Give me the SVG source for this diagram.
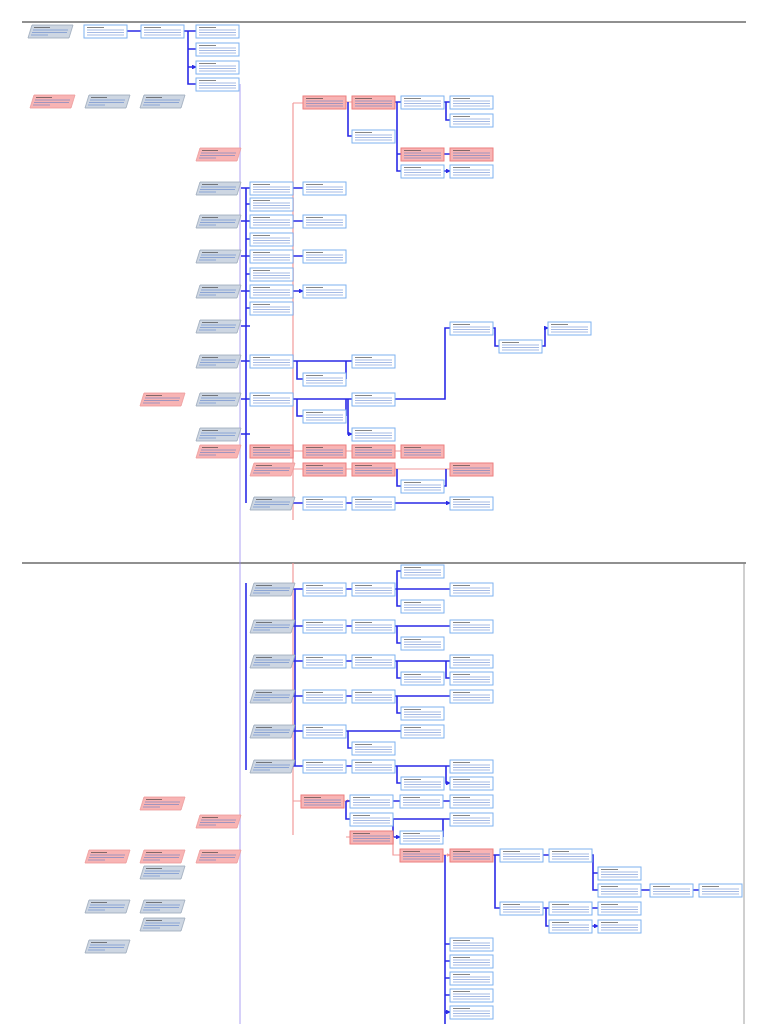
<svg xmlns="http://www.w3.org/2000/svg" xmlns:xlink="http://www.w3.org/1999/xlink" width="768" height="1024" viewBox="0 0 768 1024">
<style>
.bl{fill:none;stroke:#2b2be6;stroke-width:1.6}
.pk{fill:none;stroke:#f29a9a;stroke-width:1.2}
.ln{stroke:#4a74c9;stroke-width:0.5}
.lk{stroke:#333;stroke-width:0.6}
</style>
<defs>
<marker id="a" viewBox="0 0 6 6" refX="5" refY="3" markerWidth="3" markerHeight="3" orient="auto"><path d="M0,0L6,3L0,6z" fill="#2b2be6"/></marker>
<marker id="ap" viewBox="0 0 6 6" refX="5" refY="3" markerWidth="3" markerHeight="3" orient="auto"><path d="M0,0L6,3L0,6z" fill="#f29a9a"/></marker>
<symbol id="b" overflow="visible"><rect x="0" y="0" width="43" height="13" fill="#fff" stroke="#7fb2f0" stroke-width="1"/><line x1="3" y1="2.5" x2="20" y2="2.5" class="lk"/><line x1="3" y1="5" x2="40" y2="5" class="ln"/><line x1="3" y1="7.5" x2="40" y2="7.5" class="ln"/><line x1="3" y1="10" x2="40" y2="10" class="ln"/></symbol>
<symbol id="p" overflow="visible"><rect x="0" y="0" width="43" height="13" fill="#f8b4b4" stroke="#ec7f7f" stroke-width="1"/><line x1="3" y1="2.5" x2="20" y2="2.5" class="lk"/><line x1="3" y1="5" x2="40" y2="5" class="ln"/><line x1="3" y1="7.5" x2="40" y2="7.5" class="ln"/><line x1="3" y1="10" x2="40" y2="10" class="ln"/></symbol>
<symbol id="g" overflow="visible"><polygon points="4,0 45,0 41,13 0,13" fill="#cdd6e2" stroke="#9aa8ba" stroke-width="0.8"/><line x1="6" y1="2.5" x2="22" y2="2.5" class="lk"/><line x1="5" y1="5" x2="40" y2="5" class="ln"/><line x1="4" y1="7.5" x2="39" y2="7.5" class="ln"/><line x1="3" y1="10" x2="20" y2="10" class="ln"/></symbol>
<symbol id="q" overflow="visible"><polygon points="4,0 45,0 41,13 0,13" fill="#f8b4b4" stroke="#ec9a9a" stroke-width="0.8"/><line x1="6" y1="2.5" x2="22" y2="2.5" class="lk"/><line x1="5" y1="5" x2="40" y2="5" class="ln"/><line x1="4" y1="7.5" x2="39" y2="7.5" class="ln"/><line x1="3" y1="10" x2="20" y2="10" class="ln"/></symbol>
</defs>
<rect width="768" height="1024" fill="#fff"/>
<line x1="22" y1="22" x2="746" y2="22" stroke="#222" stroke-width="1.2"/>
<line x1="22" y1="563" x2="746" y2="563" stroke="#222" stroke-width="1.2"/>
<line x1="744" y1="563" x2="744" y2="1024" stroke="#888" stroke-width="0.8"/>
<g id="connectors">
<line x1="240" y1="84" x2="240" y2="1024" stroke="#9a8cf0" stroke-width="0.8"/>
<line x1="293" y1="103" x2="293" y2="520" class="pk"/>
<line x1="293" y1="563" x2="293" y2="835" class="pk"/>
<path class="bl" marker-end="url(#a)" d="M127 31H141M184 31H196M188 31V84H196M188 49H196M188 67H196"/>
<path class="pk" marker-end="url(#ap)" d="M293 103H303M346 102H352M293 451H303M346 451H352M395 451H401M293 469H303M346 469H352M395 469H450M293 801H301M344 801H350"/>
<path class="bl" marker-end="url(#a)" d="M348 102V136H352M395 102H401M397 102V171H401M397 154H401M444 102H450M446 102V120H450M444 154H450M444 171H450"/>
<path class="bl" d="M246 188V503"/>
<path class="bl" marker-end="url(#a)" d="M241 188H250M241 221H250M241 256H250M241 291H250M241 326H250M241 361H250M241 399H250M241 434H250M246 204H250M246 239H250M246 274H250M246 308H250M293 188H303M293 221H303M293 256H303M293 291H303"/>
<path class="bl" marker-end="url(#a)" d="M293 361H352M297 361V379H303M346 379V361M293 399H352M297 399V416H303M346 416V399M346 399H348V434H352"/>
<path class="bl" marker-end="url(#a)" d="M395 399H445V328H450M493 328H495V346H499M542 346H545V328H548"/>
<path class="bl" marker-end="url(#a)" d="M397 469V486H401M444 486H446V469M293 503H303M346 503H352M395 503H450"/>
<path class="bl" d="M246 583V770"/>
<path class="bl" marker-end="url(#a)" d="M293 589H303M346 589H352M395 589H450M397 589V571H401M397 589V606H401M293 626H303M346 626H352M395 626H450M397 626V643H401M293 661H303M346 661H352M395 661H450M397 661V678H401M446 661V678H450M293 696H303M346 696H352M395 696H450M397 696V713H401M293 731H303M346 731H401M348 731V748H352M293 766H303M346 766H352M395 766H450M397 766V783H401M446 766V783H450"/>
<path class="bl" marker-end="url(#a)" d="M295 589V766M346 801H350M393 801H400M443 801H450M346 801V819H350M393 819H450M393 819V837H400M443 837V819M393 837H400"/>
<path class="pk" marker-end="url(#ap)" d="M346 837H350M393 837V855H400M443 855H450"/>
<path class="bl" marker-end="url(#a)" d="M493 855H500M495 855V908H500M543 855H549M592 855H593V873H598M593 873V890H598M641 890H650M692 890H699M543 908H549M546 908V926H549M592 908H598M592 926H598"/>
<path class="bl" d="M445 855V1024"/>
<path class="bl" marker-end="url(#a)" d="M445 944H450M445 961H450M445 978H450M445 995H450M445 1012H450"/>
</g>
<g id="n1"><use href="#g" x="28" y="25"/></g>
<g id="n2"><use href="#b" x="84" y="25"/></g>
<g id="n3"><use href="#b" x="141" y="25"/></g>
<g id="n4"><use href="#b" x="196" y="25"/></g>
<g id="n5"><use href="#b" x="196" y="43"/></g>
<g id="n6"><use href="#b" x="196" y="61"/></g>
<g id="n7"><use href="#b" x="196" y="78"/></g>
<g id="n8"><use href="#q" x="30" y="95"/></g>
<g id="n9"><use href="#g" x="85" y="95"/></g>
<g id="n10"><use href="#g" x="140" y="95"/></g>
<g id="n11"><use href="#p" x="303" y="96"/></g>
<g id="n12"><use href="#p" x="352" y="96"/></g>
<g id="n13"><use href="#b" x="352" y="130"/></g>
<g id="n14"><use href="#b" x="401" y="96"/></g>
<g id="n15"><use href="#b" x="450" y="96"/></g>
<g id="n16"><use href="#b" x="450" y="114"/></g>
<g id="n17"><use href="#p" x="401" y="148"/></g>
<g id="n18"><use href="#p" x="450" y="148"/></g>
<g id="n19"><use href="#b" x="401" y="165"/></g>
<g id="n19b"><use href="#b" x="450" y="165"/></g>
<g id="n20"><use href="#q" x="196" y="148"/></g>
<g id="n21"><use href="#g" x="196" y="182"/></g>
<g id="n22"><use href="#g" x="196" y="215"/></g>
<g id="n23"><use href="#g" x="196" y="250"/></g>
<g id="n24"><use href="#g" x="196" y="285"/></g>
<g id="n25"><use href="#g" x="196" y="320"/></g>
<g id="n26"><use href="#g" x="196" y="355"/></g>
<g id="n27"><use href="#g" x="196" y="393"/></g>
<g id="n28"><use href="#g" x="196" y="428"/></g>
<g id="n29"><use href="#q" x="140" y="393"/></g>
<g id="n30"><use href="#q" x="196" y="445"/></g>
<g id="n31"><use href="#b" x="250" y="182"/></g>
<g id="n32"><use href="#b" x="250" y="198"/></g>
<g id="n33"><use href="#b" x="250" y="215"/></g>
<g id="n34"><use href="#b" x="250" y="233"/></g>
<g id="n35"><use href="#b" x="250" y="250"/></g>
<g id="n36"><use href="#b" x="250" y="268"/></g>
<g id="n37"><use href="#b" x="250" y="285"/></g>
<g id="n38"><use href="#b" x="250" y="302"/></g>
<g id="n39"><use href="#b" x="303" y="182"/></g>
<g id="n40"><use href="#b" x="303" y="215"/></g>
<g id="n41"><use href="#b" x="303" y="250"/></g>
<g id="n42"><use href="#b" x="303" y="285"/></g>
<g id="n43"><use href="#b" x="250" y="355"/></g>
<g id="n44"><use href="#b" x="303" y="373"/></g>
<g id="n45"><use href="#b" x="352" y="355"/></g>
<g id="n46"><use href="#b" x="250" y="393"/></g>
<g id="n47"><use href="#b" x="303" y="410"/></g>
<g id="n48"><use href="#b" x="352" y="393"/></g>
<g id="n49"><use href="#b" x="352" y="428"/></g>
<g id="n50"><use href="#b" x="450" y="322"/></g>
<g id="n51"><use href="#b" x="499" y="340"/></g>
<g id="n52"><use href="#b" x="548" y="322"/></g>
<g id="n53"><use href="#p" x="250" y="445"/></g>
<g id="n54"><use href="#p" x="303" y="445"/></g>
<g id="n55"><use href="#p" x="352" y="445"/></g>
<g id="n56"><use href="#p" x="401" y="445"/></g>
<g id="n57"><use href="#q" x="250" y="463"/></g>
<g id="n58"><use href="#p" x="303" y="463"/></g>
<g id="n59"><use href="#p" x="352" y="463"/></g>
<g id="n60"><use href="#p" x="450" y="463"/></g>
<g id="n61"><use href="#b" x="401" y="480"/></g>
<g id="n62"><use href="#g" x="250" y="497"/></g>
<g id="n63"><use href="#b" x="303" y="497"/></g>
<g id="n64"><use href="#b" x="352" y="497"/></g>
<g id="n65"><use href="#b" x="450" y="497"/></g>
<g id="n66"><use href="#g" x="250" y="583"/></g>
<g id="n67"><use href="#b" x="303" y="583"/></g>
<g id="n68"><use href="#b" x="352" y="583"/></g>
<g id="n69"><use href="#b" x="401" y="565"/></g>
<g id="n70"><use href="#b" x="401" y="600"/></g>
<g id="n71"><use href="#b" x="450" y="583"/></g>
<g id="n72"><use href="#g" x="250" y="620"/></g>
<g id="n73"><use href="#b" x="303" y="620"/></g>
<g id="n74"><use href="#b" x="352" y="620"/></g>
<g id="n75"><use href="#b" x="401" y="637"/></g>
<g id="n76"><use href="#b" x="450" y="620"/></g>
<g id="n77"><use href="#g" x="250" y="655"/></g>
<g id="n78"><use href="#b" x="303" y="655"/></g>
<g id="n79"><use href="#b" x="352" y="655"/></g>
<g id="n80"><use href="#b" x="401" y="672"/></g>
<g id="n81"><use href="#b" x="450" y="655"/></g>
<g id="n82"><use href="#b" x="450" y="672"/></g>
<g id="n83"><use href="#g" x="250" y="690"/></g>
<g id="n84"><use href="#b" x="303" y="690"/></g>
<g id="n85"><use href="#b" x="352" y="690"/></g>
<g id="n86"><use href="#b" x="401" y="707"/></g>
<g id="n87"><use href="#b" x="450" y="690"/></g>
<g id="n88"><use href="#g" x="250" y="725"/></g>
<g id="n89"><use href="#b" x="303" y="725"/></g>
<g id="n90"><use href="#b" x="352" y="742"/></g>
<g id="n91"><use href="#b" x="401" y="725"/></g>
<g id="n92"><use href="#g" x="250" y="760"/></g>
<g id="n93"><use href="#b" x="303" y="760"/></g>
<g id="n94"><use href="#b" x="352" y="760"/></g>
<g id="n95"><use href="#b" x="401" y="777"/></g>
<g id="n96"><use href="#b" x="450" y="760"/></g>
<g id="n97"><use href="#b" x="450" y="777"/></g>
<g id="n98"><use href="#q" x="140" y="797"/></g>
<g id="n99"><use href="#q" x="196" y="815"/></g>
<g id="n100"><use href="#q" x="85" y="850"/></g>
<g id="n101"><use href="#q" x="140" y="850"/></g>
<g id="n102"><use href="#q" x="196" y="850"/></g>
<g id="n103"><use href="#g" x="140" y="866"/></g>
<g id="n104"><use href="#g" x="85" y="900"/></g>
<g id="n105"><use href="#g" x="140" y="900"/></g>
<g id="n106"><use href="#g" x="140" y="918"/></g>
<g id="n107"><use href="#g" x="85" y="940"/></g>
<g id="n108"><use href="#p" x="301" y="795"/></g>
<g id="n109"><use href="#b" x="350" y="795"/></g>
<g id="n110"><use href="#b" x="400" y="795"/></g>
<g id="n111"><use href="#b" x="450" y="795"/></g>
<g id="n112"><use href="#b" x="350" y="813"/></g>
<g id="n113"><use href="#b" x="450" y="813"/></g>
<g id="n114"><use href="#p" x="350" y="831"/></g>
<g id="n115"><use href="#b" x="400" y="831"/></g>
<g id="n116"><use href="#p" x="400" y="849"/></g>
<g id="n117"><use href="#p" x="450" y="849"/></g>
<g id="n118"><use href="#b" x="500" y="849"/></g>
<g id="n119"><use href="#b" x="549" y="849"/></g>
<g id="n120"><use href="#b" x="598" y="867"/></g>
<g id="n121"><use href="#b" x="598" y="884"/></g>
<g id="n122"><use href="#b" x="650" y="884"/></g>
<g id="n123"><use href="#b" x="699" y="884"/></g>
<g id="n124"><use href="#b" x="500" y="902"/></g>
<g id="n125"><use href="#b" x="549" y="902"/></g>
<g id="n126"><use href="#b" x="598" y="902"/></g>
<g id="n127"><use href="#b" x="549" y="920"/></g>
<g id="n128"><use href="#b" x="598" y="920"/></g>
<g id="n129"><use href="#b" x="450" y="938"/></g>
<g id="n130"><use href="#b" x="450" y="955"/></g>
<g id="n131"><use href="#b" x="450" y="972"/></g>
<g id="n132"><use href="#b" x="450" y="989"/></g>
<g id="n133"><use href="#b" x="450" y="1006"/></g>
</svg>
